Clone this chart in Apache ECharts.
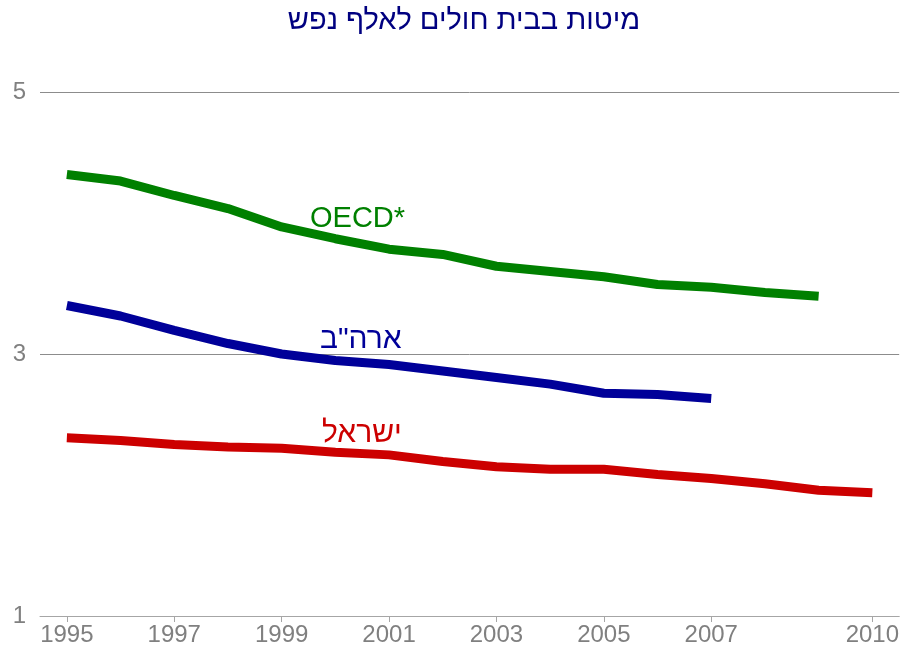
<!DOCTYPE html>
<html>
<head>
<meta charset="utf-8">
<script src="https://cdn.jsdelivr.net/npm/echarts@6/dist/echarts.min.js"></script>
<style>
  html, body { margin: 0; padding: 0; background: #fff; }
  #chart { width: 902px; height: 652px; }
</style>
</head>
<body>
<div id="chart"></div>
<script>
// Hospital beds per 1,000 population, 1995–2010
const years = ['1995','1996','1997','1998','1999','2000','2001','2002','2003','2004','2005','2006','2007','2008','2009','2010'];
const labelledYears = ['1995','1997','1999','2001','2003','2005','2007','2010'];
const oecd   = [4.37, 4.32, 4.21, 4.11, 3.97, 3.88, 3.80, 3.76, 3.67, 3.63, 3.59, 3.53, 3.51, 3.47, 3.44, null];
const usa    = [3.37, 3.29, 3.18, 3.08, 3.00, 2.95, 2.92, 2.87, 2.82, 2.77, 2.70, 2.69, 2.66, null, null, null];
const israel = [2.36, 2.34, 2.31, 2.29, 2.28, 2.25, 2.23, 2.18, 2.14, 2.12, 2.12, 2.08, 2.05, 2.01, 1.96, 1.94];
const yTicks = [1, 3, 5];

const FONT = '"Liberation Sans", Arial, "DejaVu Sans", sans-serif';
const showYear = (i, v) => labelledYears.includes(years[i]);

const chart = echarts.init(document.getElementById('chart'), null, { renderer: 'canvas' });

const lineSeries = (name, data, color) => ({
  name, type: 'line', data,
  symbol: 'none', smooth: false, connectNulls: false,
  lineStyle: { width: 9, color, cap: 'butt', join: 'round' },
  itemStyle: { color },
  emphasis: { disabled: true },
  animation: false
});

chart.setOption({
  animation: false,
  backgroundColor: '#ffffff',
  title: {
    text: 'מיטות בבית חולים לאלף נפש',
    left: 459, top: 1, textAlign: 'center',
    textStyle: { color: '#000080', fontFamily: FONT, fontSize: 29, fontWeight: 'normal' }
  },
  grid: { left: 40, right: 2, top: 92, bottom: 36, containLabel: false },
  xAxis: {
    type: 'category', data: years, boundaryGap: true,
    axisLine: { show: true, lineStyle: { color: '#a6a6a6', width: 1 } },
    axisTick: { show: true, alignWithLabel: true, interval: showYear, length: 6, inside: false, lineStyle: { color: '#a6a6a6' } },
    axisLabel: { interval: showYear, color: '#808080', fontFamily: FONT, fontSize: 24, margin: 7 },
    splitLine: { show: false }
  },
  yAxis: {
    type: 'value', min: yTicks[0], max: yTicks[yTicks.length - 1], interval: 2,
    axisLine: { show: false }, axisTick: { show: false },
    axisLabel: { color: '#808080', fontFamily: FONT, fontSize: 24, margin: 14 },
    splitLine: { show: true, lineStyle: { color: '#8c8c8c', width: 1 } }
  },
  series: [
    lineSeries('OECD*', oecd, '#008000'),
    lineSeries('ארה"ב', usa, '#000099'),
    lineSeries('ישראל', israel, '#cc0000')
  ],
  graphic: [
    { type: 'text', left: 310, top: 204, style: { text: 'OECD*', fill: '#008000', font: '29px ' + FONT } },
    { type: 'text', left: 320, top: 325, style: { text: 'ארה"ב', fill: '#000099', font: '30px ' + FONT } },
    { type: 'text', left: 322, top: 419, style: { text: 'ישראל', fill: '#cc0000', font: '30px ' + FONT } }
  ]
});
</script>
</body>
</html>
